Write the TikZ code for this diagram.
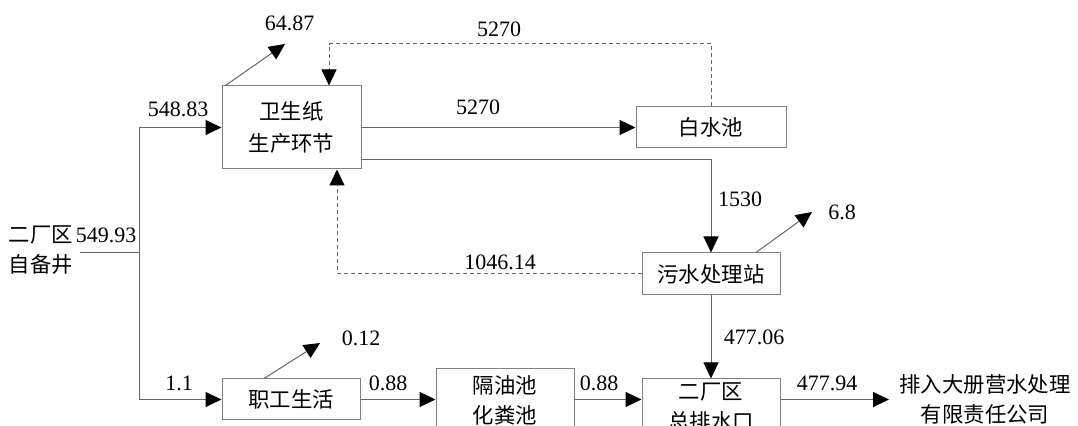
\documentclass[tikz,border=0pt]{standalone}
\usepackage{fontspec}
\setmainfont{Liberation Serif}
\newfontfamily\numfont{Liberation Serif}
\newfontfamily\cjk{Noto Sans CJK SC}
\usetikzlibrary{arrows.meta}

\begin{document}
\begin{tikzpicture}[x=0.5pt, y=-0.5pt,
				   cjkfont/.style={font=\cjk\fontsize{10.7}{15}\selectfont},
				   box/.style={draw=black!50, line width=0.5pt, cjkfont, align=center, inner sep=0pt},
				   num/.style={font=\numfont\fontsize{11}{13}\selectfont, inner sep=0pt},
				   link/.style={draw=black!60, line width=0.5pt},
				   flow/.style={link, -{Triangle[length=8pt, width=7.5pt, black]}},
				   back/.style={flow, dash pattern=on 2pt off 1.5pt}]
\useasboundingbox (0,0) rectangle (1078,426);
\clip (0,0) rectangle (1078,426);
\node[box, minimum width=69.5pt, minimum height=41.5pt] (paper) at (291.5,127.5) {卫生纸\\[1pt]生产环节};
\node[box, minimum width=75pt, minimum height=20.5pt] (white) at (711,127.5) {白水池};
\node[box, minimum width=69pt, minimum height=21pt] (sewage) at (711,274) {污水处理站};
\node[box, minimum width=69pt, minimum height=20.5pt] (staff) at (291,399.5) {职工生活};
\node[box, minimum width=69pt, minimum height=31pt] (oil) at (505,400) {隔油池\\化粪池};
\node[box, minimum width=69pt, minimum height=28pt] (outlet) at (711,407) {二厂区\\总排水口};
\node[cjkfont, align=center, inner sep=5pt] (dest) at (985,399.5) {排入大册营水处理\\有限责任公司};
\node[cjkfont, align=left, inner sep=3pt] (well) at (41,250) {二厂区\\自备井};
\coordinate (split) at (139,253);
\coordinate (turn1) at (329,44);
\coordinate (turn2) at (337,274);
\coordinate (loss1) at (285,44);
\coordinate (loss2) at (320,343);
\coordinate (loss3) at (812,212);
\draw[link] (well.east |- split) -- (split);
\draw[flow] (split) |- (paper.west);
\draw[flow] (split) |- (staff.west);
\draw[flow] ([xshift=2pt]paper.north west) -- (loss1);
\draw[flow] (paper.east) -- (white.west);
\draw[back] (white.north) |- (turn1) -- (turn1 |- paper.north);
\draw[flow] ([yshift=-16.25pt]paper.east) -| (sewage.north);
\draw[back] (sewage.west) -- (turn2) -- (turn2 |- paper.south);
\draw[flow] ([xshift=22.5pt]sewage.north) -- (loss3);
\draw[flow] (sewage.south) -- (outlet.north);
\draw[flow] ([xshift=-13.5pt]staff.north) -- (loss2);
\draw[flow] (staff.east) -- (oil.west |- staff.east);
\draw[flow] (oil.east |- staff.east) -- (outlet.west |- staff.east);
\draw[flow] (outlet.east |- staff.east) -- (dest.west |- staff.east);
\node[num] (vWell) at (106,235) {549.93};
\node[num] (vPaper) at (178,109) {548.83};
\node[num] (vLoss1) at (289.5,23) {64.87};
\node[num] (vBack1) at (499,29) {5270};
\node[num] (vWhite) at (478,107) {5270};
\node[num] (vSewage) at (740,199) {1530};
\node[num] (vLoss3) at (842,212) {6.8};
\node[num] (vBack2) at (500,262) {1046.14};
\node[num] (vOutlet) at (754,337) {477.06};
\node[num] (vLoss2) at (361,338) {0.12};
\node[num] (vStaff) at (179,383) {1.1};
\node[num] (vOil) at (388,383) {0.88};
\node[num] (vOilOut) at (599,383) {0.88};
\node[num] (vDest) at (827,383) {477.94};
\end{tikzpicture}
\end{document}
